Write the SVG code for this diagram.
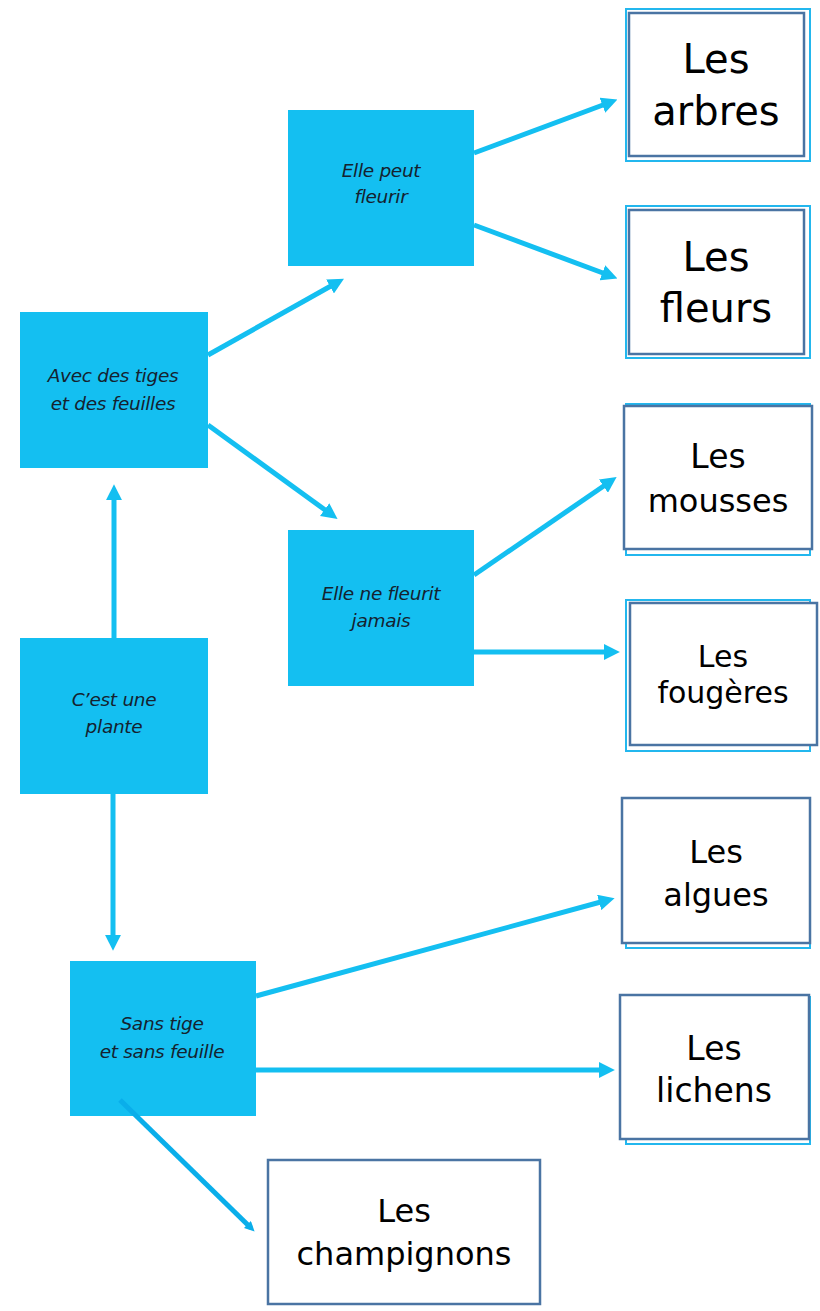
<svg xmlns="http://www.w3.org/2000/svg" width="820" height="1311" viewBox="0 0 820 1311">
<style>
.q{fill:#14bff1}
.qt{font-family:"DejaVu Sans",sans-serif;font-style:italic;font-size:18.5px;fill:#15222f;text-anchor:middle;letter-spacing:-0.3px}
.ob{fill:none;stroke:#23b7ee;stroke-width:2}
.ib{fill:#fff;stroke:#4a74a3;stroke-width:2.5}
.lt{font-family:"DejaVu Sans",sans-serif;fill:#000;text-anchor:middle}
.c line{stroke:#14bff1;stroke-width:5}
</style>
<defs>
<marker id="ah" markerUnits="userSpaceOnUse" markerWidth="16" markerHeight="16" refX="8" refY="7" orient="auto" viewBox="0 0 14 14">
<path d="M0,0 L14,7 L0,14 z" fill="#14bff1"/>
</marker>
<marker id="ah2" markerUnits="userSpaceOnUse" markerWidth="10" markerHeight="10" refX="5" refY="5" orient="auto" viewBox="0 0 10 10">
<path d="M0,0 L10,5 L0,10 z" fill="#0aaeea"/>
</marker>
</defs>
<rect width="820" height="1311" fill="#fff"/>
<g id="n-plante"><rect class="q" x="20" y="638" width="188" height="156"/><text class="qt" x="114" y="706">C’est une</text><text class="qt" x="114" y="733">plante</text></g>
<g id="n-tiges"><rect class="q" x="20" y="312" width="188" height="156"/><text class="qt" x="113" y="382">Avec des tiges</text><text class="qt" x="113" y="410">et des feuilles</text></g>
<g id="n-peut"><rect class="q" x="288" y="110" width="186" height="156"/><text class="qt" x="381" y="177">Elle peut</text><text class="qt" x="381" y="203">fleurir</text></g>
<g id="n-jamais"><rect class="q" x="288" y="530" width="186" height="156"/><text class="qt" x="381" y="600">Elle ne fleurit</text><text class="qt" x="381" y="627">jamais</text></g>
<g id="n-sans"><rect class="q" x="70" y="961" width="186" height="155"/><text class="qt" x="162" y="1030">Sans tige</text><text class="qt" x="162" y="1058">et sans feuille</text></g>
<g id="n-arbres"><rect class="ob" x="626" y="9" width="184" height="152"/><rect class="ib" x="629" y="13" width="175" height="143"/><text class="lt" x="716" y="73" font-size="40">Les</text><text class="lt" x="716" y="125" font-size="40">arbres</text></g>
<g id="n-fleurs"><rect class="ob" x="626" y="206" width="184" height="152"/><rect class="ib" x="629" y="210" width="175" height="144"/><text class="lt" x="716" y="271" font-size="40">Les</text><text class="lt" x="716" y="322" font-size="40">fleurs</text></g>
<g id="n-mousses"><rect class="ob" x="626" y="404" width="184" height="151"/><rect class="ib" x="624" y="406" width="188" height="143"/><text class="lt" x="718" y="468" font-size="33">Les</text><text class="lt" x="718" y="512" font-size="32">mousses</text></g>
<g id="n-fougeres"><rect class="ob" x="626" y="600" width="184" height="151"/><rect class="ib" x="630" y="603" width="187" height="142"/><text class="lt" x="723" y="667" font-size="30">Les</text><text class="lt" x="723" y="703" font-size="30">fougères</text></g>
<g id="n-algues"><rect class="ob" x="626" y="800" width="184" height="148"/><rect class="ib" x="622" y="798" width="188" height="145"/><text class="lt" x="716" y="863" font-size="32">Les</text><text class="lt" x="716" y="906" font-size="32">algues</text></g>
<g id="n-lichens"><rect class="ob" x="626" y="997" width="184" height="147"/><rect class="ib" x="620" y="995" width="189" height="144"/><text class="lt" x="714" y="1060" font-size="33">Les</text><text class="lt" x="714" y="1102" font-size="33">lichens</text></g>
<g id="n-champignons"><rect class="ib" x="268" y="1160" width="272" height="144"/><text class="lt" x="404" y="1222" font-size="32">Les</text><text class="lt" x="404" y="1265" font-size="32">champignons</text></g>
<g class="c" id="connectors">
<line x1="208" y1="355" x2="338" y2="282" marker-end="url(#ah)"/>
<line x1="208" y1="425" x2="332" y2="515" marker-end="url(#ah)"/>
<line x1="474" y1="153" x2="611" y2="102" marker-end="url(#ah)"/>
<line x1="474" y1="225" x2="611" y2="276" marker-end="url(#ah)"/>
<line x1="474" y1="575" x2="611" y2="481" marker-end="url(#ah)"/>
<line x1="474" y1="652" x2="613" y2="652" marker-end="url(#ah)"/>
<line x1="114" y1="638" x2="114" y2="491" marker-end="url(#ah)"/>
<line x1="113" y1="794" x2="113" y2="944" marker-end="url(#ah)"/>
<line x1="256" y1="996" x2="608" y2="900" marker-end="url(#ah)"/>
<line x1="256" y1="1070" x2="608" y2="1070" marker-end="url(#ah)"/>
<line x1="120" y1="1100" x2="251" y2="1228" style="stroke:#0aaeea" marker-end="url(#ah2)"/>
</g>
</svg>
